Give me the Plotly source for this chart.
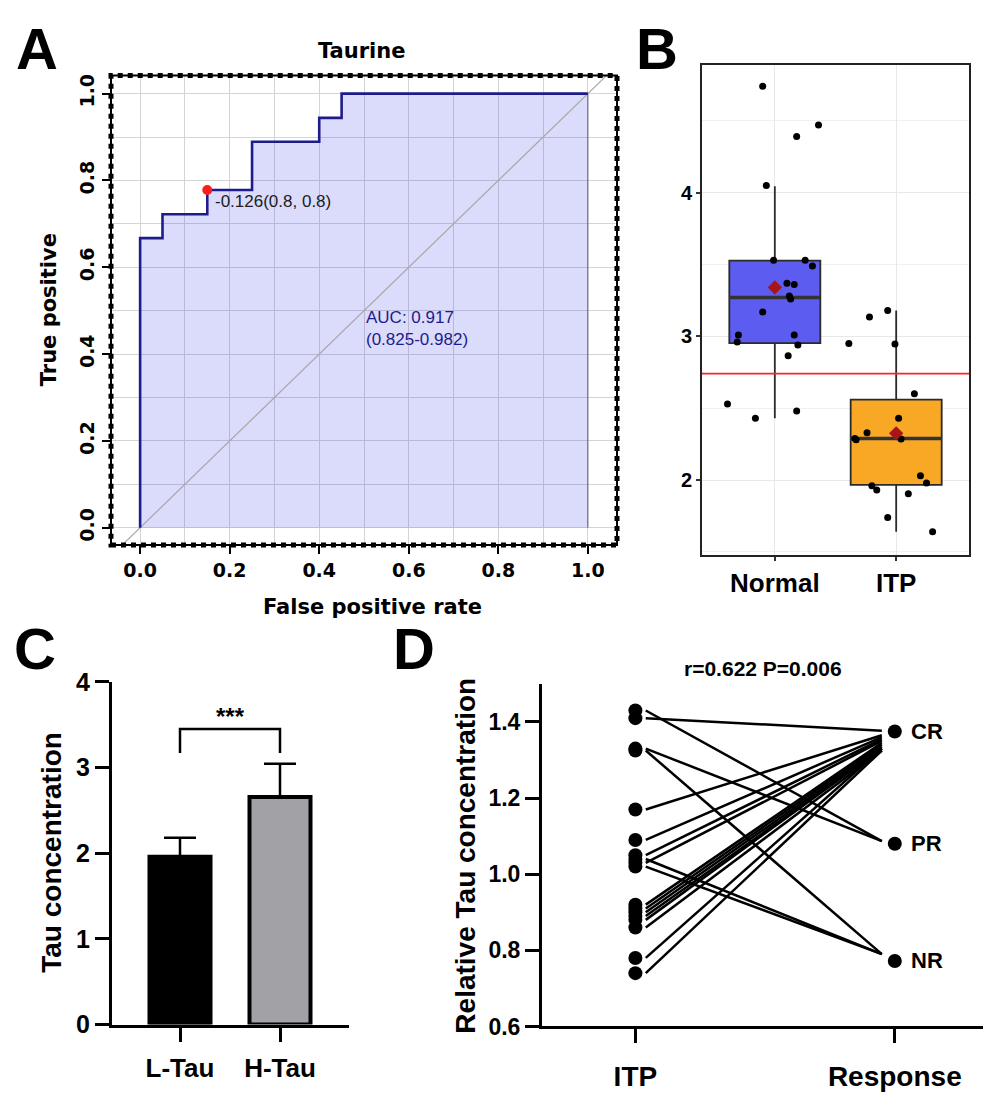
import plotly.graph_objects as go

# page body has an 8px default margin; compensate so the figure lands on the reference pixels
OFF = 8
W, H = 991 - 2 * OFF, 1100 - 2 * OFF
def fx(px):
    return (px - OFF) / W
def fy(py):
    return 1 - (py - OFF) / H

ARIAL = "Liberation Sans, Arial, sans-serif"
DEJAVU = "DejaVu Sans, sans-serif"

# ---------------- Panel A: ROC ----------------
roc_fpr = [0.0, 0.0, 0.05, 0.15, 0.25, 0.40, 0.45, 1.0]
roc_tpr = [0.0, 0.667, 0.722, 0.778, 0.889, 0.944, 1.0, 1.0]
best_fpr, best_tpr = 0.15, 0.778
best_label = "-0.126(0.8, 0.8)"
auc_label = "AUC: 0.917<br>(0.825-0.982)"
diag = [-0.2, 1.2]
a_ticks = [0.0, 0.2, 0.4, 0.6, 0.8, 1.0]

# ---------------- Panel B: boxplot ----------------
b_groups = ["Normal", "ITP"]
normal_vals = [4.74, 4.39, 4.47, 4.05, 3.53, 3.53, 3.49, 3.37, 3.36, 3.28, 3.26, 3.17,
               3.01, 2.96, 3.01, 2.94, 2.865, 2.53, 2.43, 2.48]
normal_jit = [-0.10, 0.18, 0.36, -0.07, -0.01, 0.25, 0.31, 0.10, 0.16, 0.12, 0.13, -0.10,
              -0.30, -0.31, 0.16, 0.19, 0.11, -0.39, -0.16, 0.18]
itp_vals = [3.135, 3.18, 2.95, 2.946, 2.60, 2.43, 2.33, 2.29, 2.28, 2.285, 2.03, 1.98,
            1.96, 1.93, 1.905, 1.74, 1.64]
itp_jit = [-0.22, -0.07, -0.39, -0.01, 0.15, 0.02, -0.24, -0.34, -0.33, 0.04, 0.20, 0.25,
           -0.20, -0.16, 0.10, -0.07, 0.30]
box_q1 = [2.953, 1.966]
box_med = [3.27, 2.29]
box_q3 = [3.527, 2.56]
box_lo = [2.43, 1.64]
box_hi = [4.045, 3.18]
box_mean = [3.34, 2.325]
box_colors = ["#5c5cf0", "#f9a825"]
cutoff = 2.74

# ---------------- Panel C: bars ----------------
c_groups = ["L-Tau", "H-Tau"]
c_means = [1.96, 2.655]
c_sd = [0.22, 0.39]
c_colors = ["#000000", "#a2a2a6"]
c_sig = "***"

# ---------------- Panel D: before-after ----------------
d_itp = [1.43, 1.41, 1.33, 1.325, 1.17, 1.09, 1.05, 1.04, 1.03, 1.02,
         0.92, 0.91, 0.90, 0.89, 0.88, 0.86, 0.78, 0.74]
d_resp_end = [1.087, 1.377, 1.087, 0.79, 1.365, 1.36, 1.355, 0.79, 1.35, 0.79,
              1.345, 1.34, 1.335, 1.33, 1.33, 1.325, 1.33, 1.325]
d_resp_cat = ["CR", "PR", "NR"]
d_resp_val = [1.375, 1.08, 0.772]
d_stat = "r=0.622 P=0.006"
d_xlabels = ["ITP", "Response"]

fig = go.Figure()

# ---- A traces
fig.add_trace(go.Scatter(x=roc_fpr + [1.0], y=roc_tpr + [0.0], mode="lines",
                         line=dict(shape="hv", color="#5a5a70", width=1),
                         fill="toself", fillcolor="rgba(40,40,235,0.17)",
                         xaxis="x", yaxis="y", hoverinfo="skip"))
fig.add_trace(go.Scatter(x=diag, y=diag, mode="lines",
                         line=dict(color="#a8a8a8", width=1.2), xaxis="x", yaxis="y"))
fig.add_trace(go.Scatter(x=roc_fpr, y=roc_tpr, mode="lines",
                         line=dict(shape="hv", color="#1c1c8c", width=2.6),
                         xaxis="x", yaxis="y"))
fig.add_trace(go.Scatter(x=[best_fpr], y=[best_tpr], mode="markers",
                         marker=dict(color="#ff1c1c", size=10), xaxis="x", yaxis="y"))

# ---- B traces
for i, g in enumerate(b_groups):
    pos = i + 1
    fig.add_trace(go.Box(x=[pos], q1=[box_q1[i]], median=[box_med[i]], q3=[box_q3[i]],
                         lowerfence=[box_lo[i]], upperfence=[box_hi[i]], orientation="v",
                         width=0.75, whiskerwidth=0, fillcolor=box_colors[i],
                         line=dict(color="#2a2a2a", width=1.8), boxpoints=False,
                         xaxis="x2", yaxis="y2"))
    fig.add_trace(go.Scatter(x=[pos - 0.375, pos + 0.375], y=[box_med[i], box_med[i]],
                             mode="lines", line=dict(color="#333333", width=3.5),
                             xaxis="x2", yaxis="y2"))
fig.add_trace(go.Scatter(x=[1 + j for j in normal_jit], y=normal_vals, mode="markers",
                         marker=dict(color="black", size=7), xaxis="x2", yaxis="y2"))
fig.add_trace(go.Scatter(x=[2 + j for j in itp_jit], y=itp_vals, mode="markers",
                         marker=dict(color="black", size=7), xaxis="x2", yaxis="y2"))
fig.add_trace(go.Scatter(x=[1, 2], y=box_mean, mode="markers",
                         marker=dict(color="#a81515", size=11, symbol="diamond"),
                         xaxis="x2", yaxis="y2"))

# ---- C traces
fig.add_trace(go.Bar(x=[1, 2], y=c_means, width=0.61,
                     marker=dict(color=c_colors, line=dict(color="black", width=4)),
                     error_y=dict(type="data", array=c_sd, arrayminus=[0, 0], symmetric=False,
                                  color="black", thickness=2.5, width=16),
                     xaxis="x3", yaxis="y3"))

# ---- D traces
lx, ly = [], []
for v, e in zip(d_itp, d_resp_end):
    lx += [1.04, 1.95, None]
    ly += [v, e, None]
fig.add_trace(go.Scatter(x=lx, y=ly, mode="lines", line=dict(color="black", width=2.5),
                         xaxis="x4", yaxis="y4"))
fig.add_trace(go.Scatter(x=[1] * len(d_itp), y=d_itp, mode="markers",
                         marker=dict(color="black", size=14), xaxis="x4", yaxis="y4"))
fig.add_trace(go.Scatter(x=[2] * len(d_resp_val), y=d_resp_val, mode="markers",
                         marker=dict(color="black", size=14), xaxis="x4", yaxis="y4",
                         cliponaxis=False))

# ---------------- Axes ----------------
a_tickfont = dict(family=DEJAVU, size=19, color="black", weight="bold")
fig.update_layout(
    xaxis=dict(domain=[fx(111), fx(617)], range=[-0.065, 1.065], anchor="y",
               tickvals=a_ticks, ticktext=[f"{t:.1f}" for t in a_ticks],
               ticks="outside", ticklen=8, tickwidth=1.5, tickcolor="black",
               showgrid=True, gridcolor="#d4d4d4", gridwidth=1,
               minor=dict(tickmode="linear", tick0=0, dtick=0.1, showgrid=True,
                          gridcolor="#d4d4d4", gridwidth=1),
               zeroline=False, showline=False, tickfont=a_tickfont),
    yaxis=dict(domain=[fy(547), fy(63)], range=[-0.04, 1.042], anchor="x",
               tickvals=a_ticks, ticktext=[f"{t:.1f}" for t in a_ticks], tickangle=-90,
               ticks="outside", ticklen=8, tickwidth=1.5, tickcolor="black",
               showgrid=True, gridcolor="#d4d4d4", gridwidth=1,
               minor=dict(tickmode="linear", tick0=0, dtick=0.1, showgrid=True,
                          gridcolor="#d4d4d4", gridwidth=1),
               zeroline=False, showline=False, tickfont=a_tickfont),
    xaxis2=dict(domain=[fx(702), fx(969)], range=[0.4, 2.6], anchor="y2",
                tickvals=[1, 2], ticktext=b_groups, ticks="outside", ticklen=4,
                tickwidth=1.5, tickcolor="#333", showgrid=True, gridcolor="#e8e8e8",
                showline=True, mirror=True, linecolor="#222", linewidth=2, zeroline=False,
                tickfont=dict(family=ARIAL, size=26, color="black", weight="bold")),
    yaxis2=dict(domain=[fy(557), fy(52)], range=[1.48, 4.89], anchor="x2",
                tickvals=[2, 3, 4], ticks="outside", ticklen=4, tickwidth=1.5, tickcolor="#333",
                showgrid=True, gridcolor="#e8e8e8",
                minor=dict(tickmode="linear", tick0=0, dtick=0.5, showgrid=True,
                           gridcolor="#f0f0f0"),
                showline=True, mirror=True, linecolor="#222", linewidth=2, zeroline=False,
                tickfont=dict(family=ARIAL, size=20, color="black", weight="bold")),
    xaxis3=dict(domain=[fx(112), fx(349)], range=[0.32, 2.69], anchor="y3",
                tickvals=[1, 2], ticktext=c_groups, ticks="outside", ticklen=14, tickwidth=3,
                tickcolor="black", showgrid=False, showline=True, linecolor="black",
                linewidth=3, zeroline=False, ticklabelstandoff=4,
                tickfont=dict(family=ARIAL, size=26, color="black", weight="bold")),
    yaxis3=dict(domain=[fy(1041), fy(688)], range=[0, 4], anchor="x3",
                tickvals=[0, 1, 2, 3, 4], ticks="outside", ticklen=14, tickwidth=3,
                tickcolor="black", showgrid=False, showline=True, linecolor="black",
                linewidth=3, zeroline=False,
                tickfont=dict(family=ARIAL, size=25, color="black", weight="bold")),
    xaxis4=dict(domain=[fx(542), 1.0], range=[0.64, 2.34], anchor="y4",
                tickvals=[1, 2], ticktext=d_xlabels, ticks="outside", ticklen=14, tickwidth=3,
                tickcolor="black", showgrid=False, showline=True, linecolor="black",
                linewidth=3, zeroline=False, ticklabelstandoff=9,
                tickfont=dict(family=ARIAL, size=28, color="black", weight="bold")),
    yaxis4=dict(domain=[fy(1043), fy(690)], range=[0.6, 1.5], anchor="x4",
                tickvals=[0.6, 0.8, 1.0, 1.2, 1.4], tickformat=".1f", ticks="outside",
                ticklen=14, tickwidth=3, tickcolor="black", showgrid=False, showline=True,
                linecolor="black", linewidth=3, zeroline=False,
                tickfont=dict(family=ARIAL, size=23, color="black", weight="bold")),
)

# ---------------- Shapes ----------------
shapes = [
    dict(type="rect", xref="x domain", yref="y domain", x0=0, x1=1, y0=0, y1=1,
         line=dict(color="black", width=2)),
    dict(type="rect", xref="x domain", yref="y domain", x0=0, x1=1, y0=0, y1=1,
         line=dict(color="black", width=5, dash="dot")),
    dict(type="line", xref="x2 domain", yref="y2", x0=0, x1=1, y0=cutoff, y1=cutoff,
         line=dict(color="#ff2222", width=1.8)),
    dict(type="path", xref="x3", yref="y3", path="M 1,3.17 L 1,3.45 L 2,3.45 L 2,3.17",
         line=dict(color="black", width=2.5)),
]
fig.update_layout(shapes=shapes)

# ---------------- Annotations ----------------
ann = []
def txt(text, x, y, size, family=ARIAL, bold=True, xref="paper", yref="paper",
        xanchor="center", yanchor="middle", angle=0, color="black", **kw):
    ann.append(dict(text=text, x=x, y=y, xref=xref, yref=yref, xanchor=xanchor,
                    yanchor=yanchor, textangle=angle, showarrow=False,
                    font=dict(family=family, size=size, color=color,
                              weight="bold" if bold else "normal"), **kw))

# panel letters
txt("A", fx(37), fy(35), 58)
txt("B", fx(657), fy(35), 58)
txt("C", fx(35), fy(654), 58)
txt("D", fx(414), fy(654), 58)

# panel A texts
txt("Taurine", fx(362), fy(38), 21, family=DEJAVU)
txt("True positive", fx(49), fy(305), 21, family=DEJAVU, angle=-90)
txt("False positive rate", fx(372), fy(611), 21, family=DEJAVU)
txt(best_label, best_fpr + 0.012, best_tpr - 0.027, 17, bold=False, xref="x", yref="y",
    xanchor="left", color="#202020")
txt(auc_label, 0.5, 0.46, 17, bold=False, xref="x", yref="y", xanchor="left",
    color="#1c1c8c", align="left")

# panel C texts
txt("Tau concentration", fx(52), fy(864), 28, angle=-90)
txt(c_sig, 1.5, 3.6, 24, xref="x3", yref="y3")

# panel D texts
txt("Relative Tau concentration", fx(466), fy(867), 28, angle=-90)
txt(d_stat, fx(763), fy(674), 21)
for cat, v in zip(d_resp_cat, d_resp_val):
    txt(cat, 2, v, 22, xref="x4", yref="y4", xanchor="left", xshift=14)

fig.update_layout(annotations=ann)

fig.update_layout(width=W, height=H, autosize=False, showlegend=False,
                  margin=dict(l=0, r=0, t=0, b=0),
                  paper_bgcolor="white", plot_bgcolor="white")

fig.write_html("out.html")
